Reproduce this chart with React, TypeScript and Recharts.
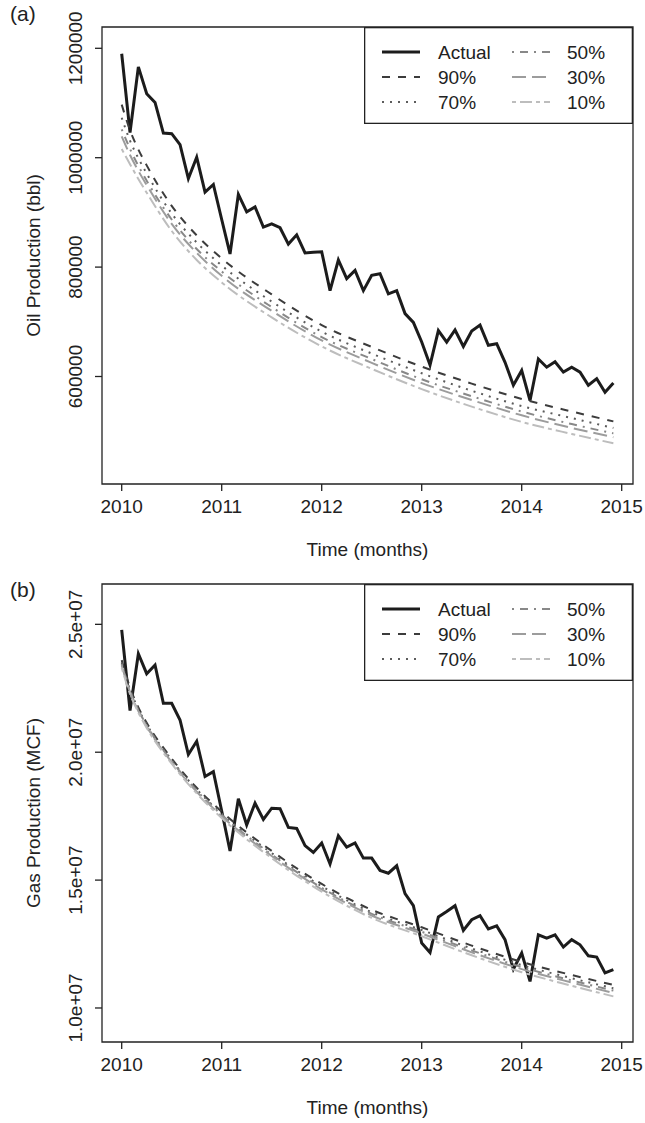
import React from 'react';
import { LineChart, Line, XAxis, YAxis, ReferenceArea, Legend } from 'recharts';

// ---------- categories ----------
const months = [
  '2010-01','2010-02','2010-03','2010-04','2010-05','2010-06','2010-07','2010-08','2010-09','2010-10','2010-11','2010-12',
  '2011-01','2011-02','2011-03','2011-04','2011-05','2011-06','2011-07','2011-08','2011-09','2011-10','2011-11','2011-12',
  '2012-01','2012-02','2012-03','2012-04','2012-05','2012-06','2012-07','2012-08','2012-09','2012-10','2012-11','2012-12',
  '2013-01','2013-02','2013-03','2013-04','2013-05','2013-06','2013-07','2013-08','2013-09','2013-10','2013-11','2013-12',
  '2014-01','2014-02','2014-03','2014-04','2014-05','2014-06','2014-07','2014-08','2014-09','2014-10','2014-11','2014-12',
];
const forecastMonths = ['2010-01','2010-02','2010-03','2010-04','2010-07','2010-10','2011-01','2011-07','2012-01','2012-07','2013-01','2013-07','2014-01','2014-07','2014-12'];

const xTicks = [2010, 2011, 2012, 2013, 2014, 2015];
const xTickLabels = ['2010', '2011', '2012', '2013', '2014', '2015'];

// ---------- panel (a): oil ----------
const oilActual = [
  1190000, 1046000, 1166000, 1117000, 1101000, 1045000, 1044000, 1024000, 962000, 1001000, 937000, 951000,
  887000, 824000, 933000, 901000, 910000, 873000, 879000, 872000, 842000, 859000, 826000, 827000,
  828000, 757000, 813000, 779000, 794000, 757000, 785000, 788000, 751000, 757000, 715000, 699000,
  663000, 621000, 684000, 663000, 685000, 655000, 683000, 694000, 657000, 660000, 626000, 584000,
  611000, 556000, 632000, 617000, 627000, 608000, 617000, 608000, 584000, 596000, 571000, 588000,
];
const oilP90 = [1097000, 1050000, 1015000, 986000, 912000, 858000, 816000, 750000, 694000, 654000, 618000, 587000, 559000, 536000, 518000];
const oilP70 = [1073000, 1031000, 999000, 971000, 898000, 845000, 803000, 737000, 682000, 642000, 606000, 574000, 546000, 524000, 506000];
const oilP50 = [1052000, 1016000, 985000, 958000, 887000, 833000, 792000, 727000, 672000, 632000, 595000, 564000, 536000, 513000, 496000];
const oilP30 = [1039000, 1005000, 976000, 950000, 879000, 826000, 784000, 720000, 666000, 625000, 588000, 557000, 529000, 506000, 489000];
const oilP10 = [1016000, 988000, 961000, 936000, 866000, 813000, 772000, 708000, 655000, 614000, 577000, 545000, 517000, 495000, 478000];
const oilTicks = [600000, 800000, 1000000, 1200000];
const oilTickLabels = ['600000', '800000', '1000000', '1200000'];

// ---------- panel (b): gas ----------
const gasActual = [
  24780000, 21630000, 23850000, 23070000, 23410000, 21910000, 21910000, 21260000, 19910000, 20430000, 19050000, 19240000,
  17700000, 16140000, 18180000, 17160000, 18010000, 17370000, 17810000, 17790000, 17060000, 17020000, 16350000, 16080000,
  16450000, 15630000, 16730000, 16290000, 16450000, 15860000, 15860000, 15380000, 15270000, 15560000, 14470000, 14000000,
  12540000, 12170000, 13560000, 13770000, 14000000, 13030000, 13450000, 13610000, 13090000, 13210000, 12670000, 11520000,
  12150000, 11040000, 12860000, 12730000, 12860000, 12380000, 12670000, 12470000, 12040000, 11990000, 11370000, 11500000,
];
const gasP90 = [23600000, 22525000, 21750000, 21150000, 19750000, 18610000, 17675000, 16140000, 14850000, 13840000, 13155000, 12440000, 11800000, 11290000, 10905000];
const gasP70 = [23510000, 22450000, 21690000, 21090000, 19690000, 18544000, 17600000, 16056000, 14760000, 13744000, 13050000, 12326000, 11680000, 11164000, 10770000];
const gasP50 = [23450000, 22400000, 21650000, 21050000, 19650000, 18500000, 17550000, 16000000, 14700000, 13680000, 12980000, 12250000, 11600000, 11080000, 10680000];
const gasP30 = [23390000, 22350000, 21610000, 21010000, 19610000, 18456000, 17500000, 15944000, 14640000, 13616000, 12910000, 12174000, 11520000, 10996000, 10590000];
const gasP10 = [23300000, 22275000, 21550000, 20950000, 19550000, 18390000, 17425000, 15860000, 14550000, 13520000, 12805000, 12060000, 11400000, 10870000, 10455000];
const gasTicks = [10000000, 15000000, 20000000, 25000000];
const gasTickLabels = ['1.0e+07', '1.5e+07', '2.0e+07', '2.5e+07'];

// ---------- styles ----------
const FONT = '"Liberation Sans", Arial, Helvetica, sans-serif';
const INK = '#222222';
const X_DOMAIN: [number, number] = [2009.803, 2015.113];

type SeriesStyle = { name: string; color: string; width: number; dash?: string };
const actualStyle: SeriesStyle = { name: 'Actual', color: '#1c1c1c', width: 3 };
const forecastStyles: SeriesStyle[] = [
  { name: '90%', color: '#3c3c3c', width: 2, dash: '8 8' },
  { name: '70%', color: '#5c5c5c', width: 2, dash: '2 6' },
  { name: '50%', color: '#888888', width: 2, dash: '2 6 8 6' },
  { name: '30%', color: '#9c9c9c', width: 2, dash: '14 6' },
  { name: '10%', color: '#bdbdbd', width: 2, dash: '4 4 12 4' },
];

const toYear = (m: string) => Number(m.slice(0, 4)) + (Number(m.slice(5, 7)) - 1) / 12;

function LegendBox() {
  const items = [actualStyle, ...forecastStyles];
  const rowsY = [25, 50, 75];
  return (
    <svg width={269} height={97} style={{ display: 'block', overflow: 'visible' }}>
      <rect x={0.65} y={0.65} width={267.7} height={95.7} fill="#ffffff" stroke={INK} strokeWidth={1.3} />
      {items.map((s, i) => {
        const col = Math.floor(i / 3);
        const row = i % 3;
        const lx = col === 0 ? 18 : 148;
        const tx = col === 0 ? 74 : 203;
        const y = rowsY[row];
        return (
          <g key={s.name}>
            <line x1={lx} x2={lx + 38} y1={y} y2={y} stroke={s.color} strokeWidth={s.width} strokeDasharray={s.dash} />
            <text x={tx} y={y + 7} fontSize={19} fontFamily={FONT} fill={INK}>{s.name}</text>
          </g>
        );
      })}
    </svg>
  );
}

type PanelProps = {
  top: number;
  height: number;
  marginTop: number;
  xAxisHeight: number;
  yDomain: [number, number];
  yTicks: number[];
  yTickLabels: string[];
  yTitle: string;
  tag: string;
  tagY: number;
  actual: number[];
  forecasts: number[][];
};

function Panel(p: PanelProps) {
  const actualData = months.map((m, i) => ({ t: toYear(m), v: p.actual[i] }));
  const fData = p.forecasts.map((arr) => forecastMonths.map((m, i) => ({ t: toYear(m), v: arr[i] })));
  const plotBottom = p.height - p.xAxisHeight;
  const plotMid = (p.marginTop + plotBottom) / 2;

  return (
    <div style={{ position: 'absolute', left: 0, top: p.top, width: 645, height: p.height }}>
      <LineChart width={645} height={p.height} margin={{ top: p.marginTop, right: 12, bottom: 0, left: 0 }}>
        <XAxis
          type="number"
          dataKey="t"
          domain={X_DOMAIN}
          ticks={xTicks}
          allowDataOverflow
          height={p.xAxisHeight}
          tickSize={7}
          axisLine={false}
          tickLine={{ stroke: INK, strokeWidth: 1.3 }}
          tick={(tp: any) => (
            <text x={tp.x} y={plotBottom + 29} textAnchor="middle" fontSize={19} fontFamily={FONT} fill={INK}>
              {xTickLabels[xTicks.indexOf(tp.payload.value)]}
            </text>
          )}
          label={() => (
            <text x={367.5} y={plotBottom + 72} textAnchor="middle" fontSize={19} fontFamily={FONT} fill={INK}>
              Time (months)
            </text>
          )}
        />
        <YAxis
          type="number"
          domain={p.yDomain}
          ticks={p.yTicks}
          allowDataOverflow
          width={102}
          tickSize={7}
          axisLine={false}
          tickLine={{ stroke: INK, strokeWidth: 1.3 }}
          tick={(tp: any) => (
            <text
              x={82}
              y={tp.y}
              transform={`rotate(-90 82 ${tp.y})`}
              textAnchor="middle"
              fontSize={19}
              fontFamily={FONT}
              fill={INK}
            >
              {p.yTickLabels[p.yTicks.indexOf(tp.payload.value)]}
            </text>
          )}
          label={() => (
            <g>
              <text
                x={40}
                y={plotMid}
                transform={`rotate(-90 40 ${plotMid})`}
                textAnchor="middle"
                fontSize={19}
                fontFamily={FONT}
                fill={INK}
              >
                {p.yTitle}
              </text>
              <text x={10} y={p.tagY} fontSize={21} fontFamily={FONT} fill={INK}>{p.tag}</text>
            </g>
          )}
        />
        <ReferenceArea
          x1={X_DOMAIN[0]}
          x2={X_DOMAIN[1]}
          y1={p.yDomain[0]}
          y2={p.yDomain[1]}
          fill="none"
          fillOpacity={0}
          stroke={INK}
          strokeWidth={1.3}
          ifOverflow="visible"
        />
        <Line
          data={actualData}
          dataKey="v"
          name={actualStyle.name}
          type="linear"
          stroke={actualStyle.color}
          strokeWidth={actualStyle.width}
          strokeLinejoin="miter"
          dot={false}
          activeDot={false}
          isAnimationActive={false}
        />
        {forecastStyles.map((s, i) => (
          <Line
            key={s.name}
            data={fData[i]}
            dataKey="v"
            name={s.name}
            type="monotone"
            stroke={s.color}
            strokeWidth={s.width}
            strokeDasharray={s.dash}
            dot={false}
            activeDot={false}
            isAnimationActive={false}
          />
        ))}
        <Legend
          layout="vertical"
          align="center"
          verticalAlign="middle"
          content={() => <LegendBox />}
          wrapperStyle={{ position: 'absolute', left: 364, top: p.marginTop, width: 269, height: 97 }}
        />
      </LineChart>
    </div>
  );
}

export default function App() {
  return (
    <div style={{ position: 'absolute', left: 0, top: 0, width: 645, height: 1123, background: '#ffffff' }}>
      <Panel
        top={0}
        height={561}
        marginTop={27}
        xAxisHeight={77}
        yDomain={[403470, 1238940]}
        yTicks={oilTicks}
        yTickLabels={oilTickLabels}
        yTitle="Oil Production (bbl)"
        tag="(a)"
        tagY={21}
        actual={oilActual}
        forecasts={[oilP90, oilP70, oilP50, oilP30, oilP10]}
      />
      <Panel
        top={561}
        height={562}
        marginTop={23}
        xAxisHeight={81}
        yDomain={[8670000, 26577000]}
        yTicks={gasTicks}
        yTickLabels={gasTickLabels}
        yTitle="Gas Production (MCF)"
        tag="(b)"
        tagY={36}
        actual={gasActual}
        forecasts={[gasP90, gasP70, gasP50, gasP30, gasP10]}
      />
    </div>
  );
}
